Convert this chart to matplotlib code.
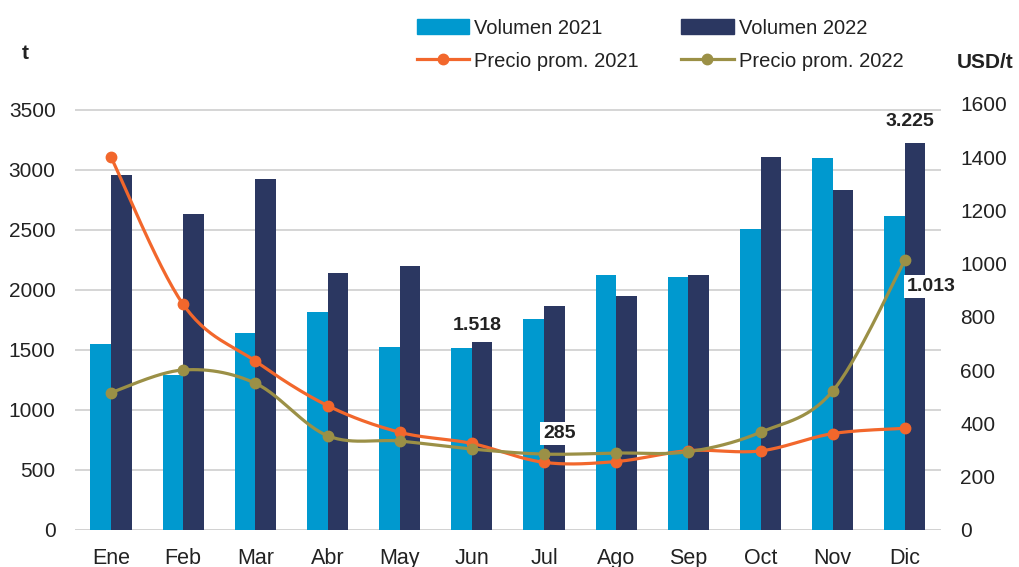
import numpy as np
import matplotlib
matplotlib.use("Agg")
from matplotlib import pyplot as plt
from matplotlib.patches import Patch
from matplotlib.lines import Line2D

plt.rcParams['font.family'] = ['Liberation Sans', 'DejaVu Sans']

meses = ["Ene", "Feb", "Mar", "Abr", "May", "Jun", "Jul", "Ago", "Sep", "Oct", "Nov", "Dic"]
vol_2021 = [1552, 1288, 1645, 1813, 1522, 1518, 1755, 2124, 2110, 2508, 3096, 2618]
vol_2022 = [2956, 2632, 2926, 2140, 2200, 1566, 1863, 1953, 2124, 3110, 2835, 3225]
precio_2021 = [1400, 847, 634, 467, 367, 325, 254, 257, 298, 297, 362, 382]
precio_2022 = [516, 601, 551, 354, 334, 304, 285, 289, 294, 367, 522, 1013]

c_light = "#0099cf"
c_dark = "#2b3761"
c_orange = "#f2672c"
c_olive = "#9b9046"
c_grid = "#d2d2d2"
c_text = "#222222"


def suave(x, y, n=30):
    # curva tipo Excel (Catmull-Rom / Bezier)
    x = np.asarray(x, float)
    y = np.asarray(y, float)
    px = np.concatenate([[x[0]], x, [x[-1]]])
    py = np.concatenate([[y[0]], y, [y[-1]]])
    xs, ys = [], []
    t = np.linspace(0, 1, n)
    for i in range(1, len(px) - 2):
        p0 = np.array([px[i], py[i]])
        p3 = np.array([px[i + 1], py[i + 1]])
        c1 = p0 + (np.array([px[i + 1], py[i + 1]]) - np.array([px[i - 1], py[i - 1]])) / 6
        c2 = p3 - (np.array([px[i + 2], py[i + 2]]) - np.array([px[i], py[i]])) / 6
        b = ((1 - t) ** 3)[:, None] * p0 + (3 * (1 - t) ** 2 * t)[:, None] * c1 \
            + (3 * (1 - t) * t ** 2)[:, None] * c2 + (t ** 3)[:, None] * p3
        xs.extend(b[:, 0])
        ys.extend(b[:, 1])
    return np.array(xs), np.array(ys)


fig = plt.figure(figsize=(10.2, 5.67), dpi=100)
ax = fig.add_axes([0.0735, 0.0653, 0.849, 0.7513])
x = np.arange(len(meses))
w = 0.285

ax.bar(x - w / 2, vol_2021, width=w, color=c_light, zorder=2)
ax.bar(x + w / 2, vol_2022, width=w, color=c_dark, zorder=2)
ax.set_xlim(-0.5, 11.5)
ax.set_ylim(0, 3550)
ax.set_yticks(range(0, 3501, 500))
ax.set_xticks(x)
ax.set_xticklabels(meses, fontsize=15.5, color=c_text)
ax.tick_params(axis='y', labelsize=15, colors=c_text, length=0, pad=14)
ax.tick_params(axis='x', length=0, pad=13)
ax.grid(axis='y', color=c_grid, linewidth=1.3, zorder=0)
for s in ax.spines.values():
    s.set_visible(False)
ax.axhline(0, color=c_grid, linewidth=1.3, zorder=1)

ax2 = ax.twinx()
ax2.set_ylim(0, 1600)
ax2.set_yticks(range(0, 1601, 200))
ax2.tick_params(axis='y', labelsize=15, colors=c_text, length=0, pad=14)
for s in ax2.spines.values():
    s.set_visible(False)

for serie, col in [(precio_2021, c_orange), (precio_2022, c_olive)]:
    sx, sy = suave(x, serie)
    ax2.plot(sx, sy, color=col, linewidth=2.3, zorder=3)
    ax2.plot(x, serie, 'o', color=col, markersize=7.5, zorder=4)

fmt = lambda v: "{:,}".format(v).replace(",", ".")
ax.annotate(fmt(vol_2021[5]), (5, vol_2021[5]), xytext=(4, 10), textcoords='offset points',
            ha='center', va='bottom', fontsize=14, fontweight='bold', color=c_text)
ax.annotate(fmt(vol_2022[11]), (11 + w / 2, vol_2022[11]), xytext=(-4, 9), textcoords='offset points',
            ha='center', va='bottom', fontsize=14, fontweight='bold', color=c_text)
box = dict(boxstyle='square,pad=0.15', fc='white', ec='none')
ax2.annotate(fmt(precio_2022[6]), (6, precio_2022[6]), xytext=(11, 15), textcoords='offset points',
             ha='center', va='center', fontsize=14, fontweight='bold', color=c_text, bbox=box, zorder=5)
ax2.annotate(fmt(precio_2022[11]), (11, precio_2022[11]), xytext=(19, -19), textcoords='offset points',
             ha='center', va='center', fontsize=14, fontweight='bold', color=c_text, bbox=box, zorder=5)

fig.text(0.025, 0.905, "t", fontsize=15, fontweight='bold', color=c_text, va='center', ha='center')
fig.text(0.966, 0.89, "USD/t", fontsize=15, fontweight='bold', color=c_text, va='center', ha='center')

handles = [
    Patch(color=c_light),
    Line2D([], [], color=c_orange, linewidth=2.3, marker='o', markersize=7.5),
    Patch(color=c_dark),
    Line2D([], [], color=c_olive, linewidth=2.3, marker='o', markersize=7.5),
]
labels = ["Volumen 2021", "Precio prom. 2021", "Volumen 2022", "Precio prom. 2022"]
fig.legend(handles, labels, ncol=2, loc='upper left', bbox_to_anchor=(0.391, 0.999),
           frameon=False, fontsize=14.5, handlelength=2.6, handleheight=0.8,
           handletextpad=0.25, columnspacing=2.1, labelspacing=0.7, labelcolor=c_text)

fig.savefig("out.png", dpi=100)
